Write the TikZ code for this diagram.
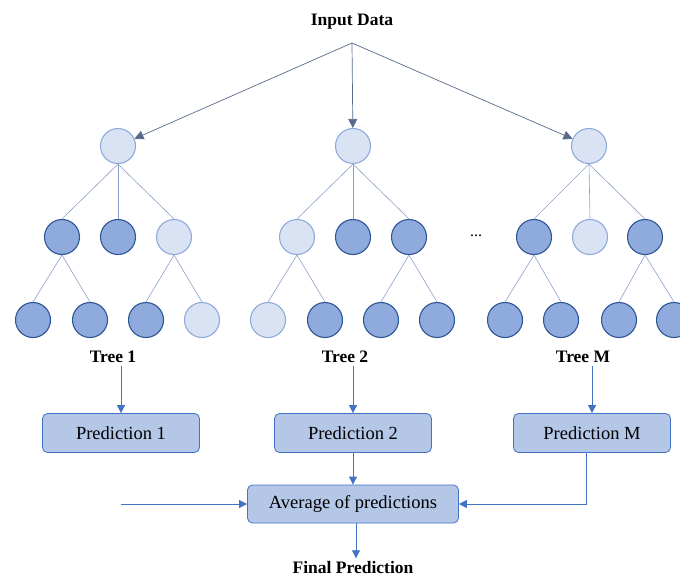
\documentclass[tikz,border=0pt]{standalone}
\usepackage{fontspec}
\setmainfont{Liberation Serif}
\usepackage{xcolor}
\usetikzlibrary{positioning, arrows.meta}
\definecolor{nodeDark}{HTML}{8FAADC}
\definecolor{nodeDarkB}{HTML}{2F5597}
\definecolor{nodeLight}{HTML}{DAE3F3}
\definecolor{nodeLightB}{HTML}{8FAADC}
\definecolor{predBox}{HTML}{B4C7E7}
\definecolor{predBoxB}{HTML}{4472C4}
\definecolor{edgeCol}{HTML}{8A9FCC}
\definecolor{navy}{HTML}{1F3864}
\begin{document}
\begin{tikzpicture}[x=1pt, y=-1pt, dk/.style={circle, draw=nodeDarkB, fill=nodeDark, line width=1.1pt, minimum size=35pt, inner sep=0pt},lt/.style={circle, draw=nodeLightB, fill=nodeLight, line width=1.1pt, minimum size=35pt, inner sep=0pt},br/.style={draw=edgeCol, line width=0.6pt},pbox/.style={draw=predBoxB, fill=predBox, rounded corners=5pt, line width=0.8pt, minimum height=39pt, font=\fontsize{18.5}{22}\selectfont},ttl/.style={font=\fontsize{17.5}{21}\selectfont\bfseries},flow/.style={draw=predBoxB, line width=0.8pt, -{Triangle[length=8pt, width=8pt]}},feed/.style={draw=navy!75, line width=0.7pt, -{Triangle[length=9pt, width=9pt]}}]
\useasboundingbox (0,0) rectangle (680,579);
\node[ttl] (in) at (352,22) {Input Data};
\coordinate (split) at (352,43);
\node[lt] (r1) at (118,146) {}; \node[lt] (r2) at (353,146) {}; \node[lt] (r3) at (589,146) {};
\node[dk] (a1) at (62,237) {}; \node[dk] (a2) at (118,237) {}; \node[lt] (a3) at (174,237) {};
\node[dk] (a11) at (33,320) {}; \node[dk] (a12) at (90,320) {}; \node[dk] (a31) at (146,320) {}; \node[lt] (a32) at (202,320) {};
\node[lt] (b1) at (297,237) {}; \node[dk] (b2) at (353,237) {}; \node[dk] (b3) at (409,237) {};
\node[lt] (b11) at (268,320) {}; \node[dk] (b12) at (325,320) {}; \node[dk] (b31) at (381,320) {}; \node[dk] (b32) at (437,320) {};
\node[dk] (c1) at (534,237) {}; \node[lt] (c2) at (590,237) {}; \node[dk] (c3) at (645,237) {};
\node[dk] (c11) at (505,320) {}; \node[dk] (c12) at (561,320) {}; \node[dk] (c31) at (619,320) {}; \node[dk] (c32) at (674,320) {};
\node[anchor=base, font=\fontsize{16}{18}\selectfont] (dots) at (476,236) {...};
\node[ttl] (t1) at (113,357) {Tree 1}; \node[ttl] (t2) at (345,357) {Tree 2}; \node[ttl] (t3) at (583,357) {Tree M};
\node[pbox, minimum width=157pt] (p1) at (121,433) {Prediction 1};
\node[pbox, minimum width=157pt] (p2) at (353,433) {Prediction 2};
\node[pbox, minimum width=157pt] (p3) at (592,433) {Prediction M};
\node[pbox, minimum width=211pt, minimum height=38pt] (avg) at (353,504) {Average of predictions};
\node[ttl] (fin) at (353,568) {Final Prediction};
\coordinate (lin) at (p1 |- avg);
\draw[feed] (split) -- (r1); \draw[feed] (split) -- (r2); \draw[feed] (split) -- (r3);
\draw[br] (r1.south) -- (a1.north); \draw[br] (r1.south) -- (a2.north); \draw[br] (r1.south) -- (a3.north);
\draw[br] (a1.south) -- (a11.north); \draw[br] (a1.south) -- (a12.north); \draw[br] (a3.south) -- (a31.north); \draw[br] (a3.south) -- (a32.north);
\draw[br] (r2.south) -- (b1.north); \draw[br] (r2.south) -- (b2.north); \draw[br] (r2.south) -- (b3.north);
\draw[br] (b1.south) -- (b11.north); \draw[br] (b1.south) -- (b12.north); \draw[br] (b3.south) -- (b31.north); \draw[br] (b3.south) -- (b32.north);
\draw[br] (r3.south) -- (c1.north); \draw[br] (r3.south) -- (c2.north); \draw[br] (r3.south) -- (c3.north);
\draw[br] (c1.south) -- (c11.north); \draw[br] (c1.south) -- (c12.north); \draw[br] (c3.south) -- (c31.north); \draw[br] (c3.south) -- (c32.north);
\draw[flow] (p1 |- t1.south) -- (p1.north); \draw[flow] (p2 |- t2.south) -- (p2.north); \draw[flow] (p3 |- t3.south) -- (p3.north);
\draw[flow] (p2.south) -- (avg.north);
\draw[flow] ([xshift=-6pt]p3.south) |- (avg.east);
\draw[flow] (lin) -- (avg.west);
\draw[flow] ([xshift=3pt]avg.south) -- ([xshift=3pt]fin.north);
\end{tikzpicture}
\end{document}
